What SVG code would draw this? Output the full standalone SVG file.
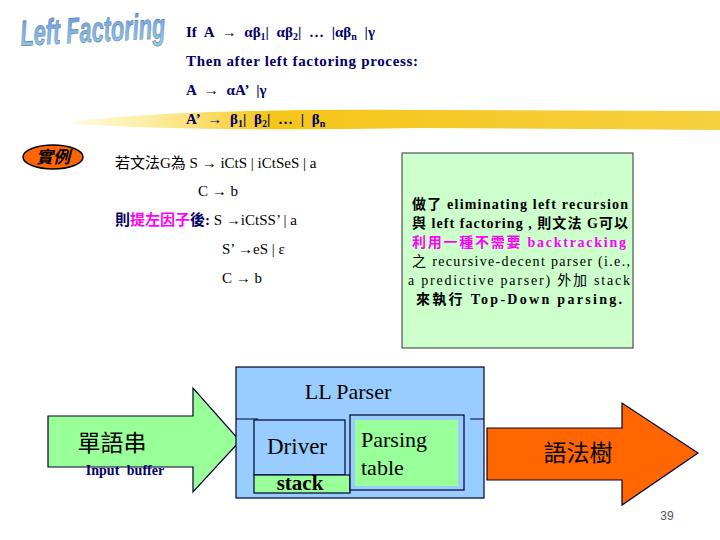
<svg xmlns="http://www.w3.org/2000/svg" width="720" height="540" viewBox="0 0 720 540">
<style>
.s{font-family:"Liberation Serif","Noto Sans CJK TC",serif;fill:#000}
.b{font-weight:bold}
.n{fill:#000066}
.m{fill:#ff00ff}
.box{stroke:#000033;stroke-width:1.2}
</style>
<defs>
<linearGradient id="tg" x1="0" y1="0" x2="0" y2="1"><stop offset="0" stop-color="#6699ee"/><stop offset="1" stop-color="#99ccdd"/></linearGradient>
<linearGradient id="yb" x1="0" y1="0" x2="1" y2="0"><stop offset="0" stop-color="#ffee88" stop-opacity="0.3"/><stop offset="0.3" stop-color="#f5c518"/><stop offset="1" stop-color="#f5d040"/></linearGradient>
</defs>
<rect width="720" height="540" fill="#fff"/>
<g id="title"><text x="20" y="42" font-family="Liberation Sans,sans-serif" font-style="italic" font-weight="bold" font-size="36" fill="url(#tg)" stroke="#557799" stroke-width="0.6" transform="rotate(-3 90 25)" textLength="145" lengthAdjust="spacingAndGlyphs">Left Factoring</text></g>
<path d="M75 121 Q200 108 420 110 L720 111 L720 130 L420 128 Q200 132 75 124 Z" fill="url(#yb)"/>
<g class="s b n" style="font-size:15px">
<text x="186" y="37" word-spacing="4">If  A → αβ<tspan font-size="10" dy="3">1</tspan><tspan dy="-3">|  αβ</tspan><tspan font-size="10" dy="3">2</tspan><tspan dy="-3">| … |αβ</tspan><tspan font-size="10" dy="3">n</tspan><tspan dy="-3"> |γ</tspan></text>
<text x="186" y="66" textLength="232">Then  after left factoring  process:</text>
<text x="186" y="95" word-spacing="4">A → αA’ |γ</text>
<text x="186" y="124" word-spacing="4">A’ → β<tspan font-size="10" dy="3">1</tspan><tspan dy="-3">|  β</tspan><tspan font-size="10" dy="3">2</tspan><tspan dy="-3">| … | β</tspan><tspan font-size="10" dy="3">n</tspan></text>
</g>
<g id="example"><ellipse cx="53" cy="157" rx="30" ry="12" fill="#ff6600" stroke="#000" stroke-width="1.5"/><text x="53" y="163" text-anchor="middle" font-family="Noto Sans CJK TC,sans-serif" font-weight="bold" font-size="17" font-style="italic" fill="#000">實例</text></g>
<g class="s" style="font-size:15px">
<text x="115" y="168">若文法G為  S → iCtS | iCtSeS | a</text>
<text x="198" y="196">C → b</text>
<text x="115" y="225" class="b"><tspan class="n">則</tspan><tspan class="m">提左因子</tspan><tspan class="n">後:</tspan><tspan font-weight="normal" fill="#000">  S →iCtSS’ | a</tspan></text>
<text x="222" y="254">S’ →eS  | ε</text>
<text x="222" y="283">C → b</text>
</g>
<g id="note">
<rect x="402" y="153" width="231" height="195" fill="#ccffcc" stroke="#333" stroke-width="1"/>
<g class="s b" style="font-size:14px">
<text x="412" y="209" textLength="216">做了 eliminating  left  recursion</text>
<text x="412" y="228" textLength="216">與 left factoring , 則文法 G可以</text>
<text x="412" y="247" class="m" textLength="214">利用一種不需要   backtracking</text>
<text x="412" y="266" font-weight="normal" textLength="218">之 recursive-decent  parser  (i.e.,</text>
<text x="408" y="285" font-weight="normal" textLength="222">a  predictive  parser) 外加 stack</text>
<text x="416" y="304" textLength="206">來執行    Top-Down   parsing.</text>
</g>
</g>
<g id="connectors">
<path d="M48 416 H193 V388 L240 441 L193 492 V467 H48 Z" fill="#99ff99" stroke="#000033" stroke-width="1.2"/>
<path d="M487 428 H622 V403 L698 453 L622 505 V480 H487 Z" fill="#ff6600" stroke="#000033" stroke-width="1.2"/>
</g>
<g id="ll">
<rect x="236" y="367" width="248" height="131" fill="#99ccff" class="box"/>
<line x1="236" y1="419" x2="258" y2="419" stroke="#000033"/>
<line x1="470" y1="419" x2="484" y2="419" stroke="#000033"/>
<text x="348" y="399" class="s" style="font-size:22px" text-anchor="middle">LL Parser</text>
</g>
<g id="driver"><rect x="254" y="420" width="91" height="55" fill="#99ccff" class="box"/><text x="297" y="454" class="s" style="font-size:23px" text-anchor="middle">Driver</text></g>
<g id="stack"><rect x="254" y="475" width="96" height="18" fill="#99ff99" class="box"/><text x="300" y="490" class="s b" style="font-size:21px" text-anchor="middle">stack</text></g>
<g id="table"><rect x="350" y="415" width="114" height="75" fill="#99ccff" class="box"/><rect x="355" y="420" width="103" height="66" fill="#99ff99"/><text x="361" y="447" class="s" style="font-size:22px">Parsing</text><text x="361" y="475" class="s" style="font-size:22px">table</text></g>
<g id="input"><text x="112" y="451" style="font-size:23px;font-family:'Noto Sans CJK TC',sans-serif" text-anchor="middle">單語串</text><text x="125" y="475" class="s b n" style="font-size:14px" text-anchor="middle" word-spacing="4">Input buffer</text></g>
<g id="output"><text x="578" y="461" style="font-size:23px;font-family:'Noto Sans CJK TC',sans-serif" text-anchor="middle">語法樹</text></g>
<text x="667" y="520" font-family="Liberation Sans,sans-serif" font-size="12" fill="#555" text-anchor="middle">39</text>
</svg>
